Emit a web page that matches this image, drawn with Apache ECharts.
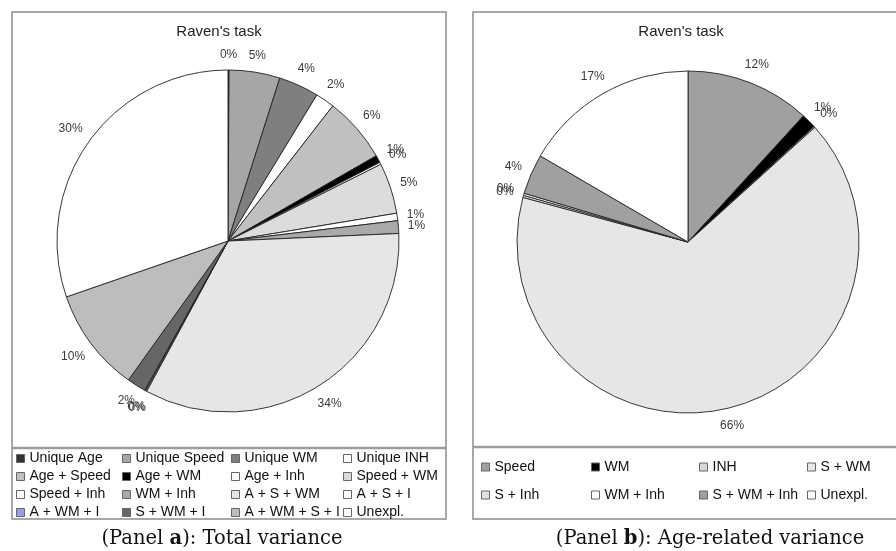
<!DOCTYPE html>
<html>
<head>
<meta charset="utf-8">
<title>Raven's task</title>
<script src="https://cdn.jsdelivr.net/npm/echarts@6.0.0/dist/echarts.min.js"></script>
<style>
  html, body { margin: 0; padding: 0; background: #fff; }
  #a { position: absolute; left: 0; top: 0; width: 460px; height: 551px; }
  #b { position: absolute; left: 460px; top: 0; width: 436px; height: 551px; }
</style>
</head>
<body>
<div id="a"></div>
<div id="b"></div>
<script>
// panel a - total variance (% of variance)
const namesA = ['Unique Age', 'Unique Speed', 'Unique WM', 'Unique INH',
  'Age + Speed', 'Age + WM', 'Age + Inh', 'Speed + WM',
  'Speed + Inh', 'WM + Inh', 'A + S + WM', 'A + S + I',
  'A + WM + I', 'S + WM + I', 'A + WM + S + I', 'Unexpl.'];
const valuesA = [0.1, 4.8, 3.8, 1.8, 6.2, 0.7, 0.2, 4.8, 0.7, 1.2, 33.6, 0.1, 0.1, 1.8, 9.8, 30.3];
const colorsA = ['#333333', '#a6a6a6', '#7f7f7f', '#ffffff', '#c0c0c0', '#000000', '#ffffff', '#dcdcdc',
  '#ffffff', '#a9a9a9', '#e6e6e6', '#ffffff', '#9c9ce6', '#666666', '#bdbdbd', '#ffffff'];

// panel b - age-related variance
const namesB = ['Speed', 'WM', 'INH', 'S + WM', 'S + Inh', 'WM + Inh', 'S + WM + Inh', 'Unexpl.'];
const valuesB = [11.8, 1.4, 0.1, 65.9, 0.2, 0.2, 3.8, 16.6];
const colorsB = ['#a0a0a0', '#000000', '#d9d9d9', '#e6e6e6', '#e0e0e0', '#ffffff', '#a0a0a0', '#ffffff'];

const SANS = '"Liberation Sans", Arial, sans-serif';
const SERIF = '"DejaVu Serif", serif';

// label sits just outside the rim, Excel style (centred on the slice direction)
function rimLabel(gap) {
  return function (p) {
    const pts = p.labelLinePoints;
    if (!pts) return {};
    let dx = pts[1][0] - pts[0][0], dy = pts[1][1] - pts[0][1];
    const len = Math.hypot(dx, dy) || 1;
    dx /= len; dy /= len;
    const off = gap + Math.abs(dx) * p.labelRect.width / 2 + Math.abs(dy) * p.labelRect.height / 2;
    return { x: pts[0][0] + dx * off, y: pts[0][1] + dy * off, align: 'center', verticalAlign: 'middle' };
  };
}

// legend is laid out in columns, one vertical legend per column
function columns(names, perRow) {
  const cols = [];
  for (let c = 0; c < perRow; c++) cols.push(names.filter((n, i) => i % perRow === c));
  return cols;
}

function build(el, cfg) {
  const chart = echarts.init(document.getElementById(el));
  const legends = columns(cfg.names, 4).map((col, i) => ({
    orient: 'vertical', left: cfg.legendX[i], top: cfg.legendTop, padding: 0,
    itemWidth: 8, itemHeight: 8, itemGap: cfg.legendGap, icon: 'rect',
    selectedMode: false, data: col,
    itemStyle: { borderColor: '#666', borderWidth: 1 },
    textStyle: { fontFamily: SANS, fontSize: cfg.legendSize, color: '#111', lineHeight: 14 }
  }));
  chart.setOption({
    animation: false,
    legend: legends,
    graphic: [
      { type: 'rect', shape: cfg.box, style: { fill: 'none', stroke: '#a8a8a8', lineWidth: 2 } },
      { type: 'line', shape: { x1: cfg.box.x, y1: cfg.sepY, x2: cfg.box.x + cfg.box.width, y2: cfg.sepY },
        style: { stroke: '#9c9c9c', lineWidth: 2.5 } },
      { type: 'text', x: cfg.titleX, y: 32,
        style: { text: "Raven's task", font: '15px ' + SANS, fill: '#222', align: 'center', verticalAlign: 'middle' } },
      { type: 'text', x: cfg.capX, y: 539,
        style: { text: cfg.caption, font: '19.5px ' + SERIF, fill: '#111', align: 'center', verticalAlign: 'middle',
          rich: { b: { fontWeight: 'bold', fontSize: 19.5, fontFamily: SERIF } } } }
    ],
    series: [{
      type: 'pie',
      center: cfg.center,
      radius: 171,
      startAngle: 90,
      clockwise: true,
      avoidLabelOverlap: false,
      silent: true,
      itemStyle: { borderColor: '#222', borderWidth: 0.9 },
      label: {
        show: true, position: 'outside', fontFamily: SANS, fontSize: 12, color: '#3a3a3a',
        formatter: p => Math.round(p.value) + '%'
      },
      labelLine: { show: true, length: 10, length2: 0, lineStyle: { opacity: 0 } },
      labelLayout: rimLabel(cfg.gap),
      data: cfg.names.map((n, i) => ({ name: n, value: cfg.values[i], itemStyle: { color: cfg.colors[i] } }))
    }]
  });
}

build('a', {
  names: namesA, values: valuesA, colors: colorsA,
  center: [228, 241], gap: 9,
  box: { x: 12, y: 12, width: 434, height: 507 }, sepY: 448,
  titleX: 219, capX: 222,
  caption: '(Panel {b|a}): Total variance',
  legendX: [16, 122, 231, 343], legendTop: 451.5, legendGap: 4, legendSize: 14
});

build('b', {
  names: namesB, values: valuesB, colors: colorsB,
  center: [228, 242], gap: 9,
  box: { x: 13, y: 12, width: 500, height: 507 }, sepY: 447,
  titleX: 221, capX: 250,
  caption: '(Panel {b|b}): Age-related variance',
  legendX: [21, 131, 239, 347], legendTop: 460, legendGap: 14, legendSize: 14
});
</script>
</body>
</html>
